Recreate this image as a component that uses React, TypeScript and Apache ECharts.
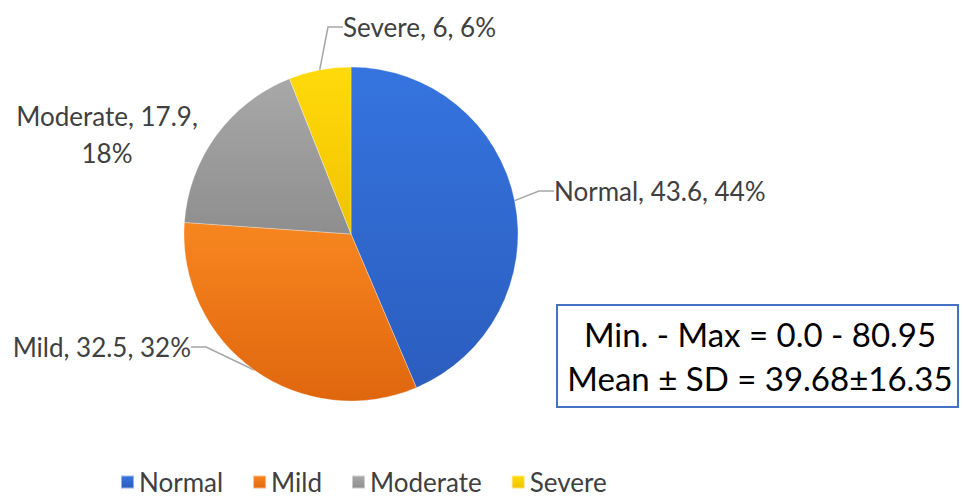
import React, { useEffect, useRef } from "react";
import * as echarts from "echarts";

const categories = ["Normal", "Mild", "Moderate", "Severe"];
const values = [43.6, 32.5, 17.9, 6];
const percents = ["44%", "32%", "18%", "6%"];
const topColors = ["#3574DF", "#F7861F", "#A8A8A8", "#FFDA0A"];
const bottomColors = ["#2B5DBE", "#E0660E", "#8E8E8E", "#F2C200"];
const statLines = ["Min. - Max = 0.0 - 80.95", "Mean ± SD = 39.68±16.35"];

const FONT = "Lato, 'Open Sans', sans-serif";

// label anchor positions (layout only)
const labelPos = [
  { x: 554, y: 191, align: "left" },
  { x: 191, y: 347, align: "right" },
  { x: 107, y: 134, align: "center" },
  { x: 343, y: 27, align: "left" },
];
const showLine = [true, true, false, true];

export default function App() {
  const ref = useRef<HTMLDivElement>(null);
  useEffect(() => {
    if (!ref.current) return;
    const chart = echarts.init(ref.current, undefined, { renderer: "svg" });
    const data = categories.map((name, i) => ({
      name,
      value: values[i],
      itemStyle: {
        color: new echarts.graphic.LinearGradient(0, 0, 0, 1, [
          { offset: 0, color: topColors[i] },
          { offset: 1, color: bottomColors[i] },
        ]),
      },
      label: {
        formatter:
          name === "Moderate"
            ? `${name}, ${values[i]},\n${percents[i]}`
            : `${name}, ${values[i]}, ${percents[i]}`,
      },
      labelLine: { show: showLine[i] },
    }));
    chart.setOption({
      animation: false,
      backgroundColor: "#ffffff",
      legend: {
        top: 467,
        left: 115,
        padding: [0, 5, 0, 5],
        itemWidth: 13,
        itemHeight: 13,
        itemGap: 29,
        icon: "rect",
        textStyle: { fontFamily: FONT, fontSize: 26, color: "#404040", lineHeight: 30 },
        data: categories,
      },
      series: [
        {
          type: "pie",
          center: [351, 234],
          radius: 167,
          startAngle: 90,
          clockwise: true,
          data,
          itemStyle: { borderColor: "rgba(255,255,255,0.5)", borderWidth: 0.6 },
          label: {
            show: true,
            position: "outside",
            fontFamily: FONT,
            fontSize: 26,
            color: "#404040",
            lineHeight: 37,
            align: "center",
            overflow: "none",
            width: 300,
            edgeDistance: 0,
            bleedMargin: 0,
          },
          labelLine: {
            show: true,
            length: 15,
            length2: 15,
            lineStyle: { color: "#A6A6A6", width: 1.5 },
          },
          labelLayout: (params: any) => {
            const p = labelPos[params.dataIndex];
            return {
              x: p.x,
              y: p.y,
              align: p.align,
              verticalAlign: "middle",
            };
          },
          emphasis: { disabled: true },
        },
      ],
      graphic: [
        {
          type: "rect",
          left: 556,
          top: 304,
          shape: { width: 401, height: 102 },
          style: { fill: "#ffffff", stroke: "#4472C4", lineWidth: 2 },
        },
        {
          type: "text",
          x: 760,
          y: 334,
          style: {
            text: statLines[0],
            font: `33px ${FONT}`,
            fill: "#000000",
            align: "center",
            verticalAlign: "middle",
          },
        },
        {
          type: "text",
          x: 760,
          y: 378,
          style: {
            text: statLines[1],
            font: `33px ${FONT}`,
            fill: "#000000",
            align: "center",
            verticalAlign: "middle",
          },
        },
      ],
    });
    return () => chart.dispose();
  }, []);
  return (
    <div
      ref={ref}
      style={{ position: "fixed", left: 0, top: 0, width: 963, height: 500 }}
    />
  );
}
